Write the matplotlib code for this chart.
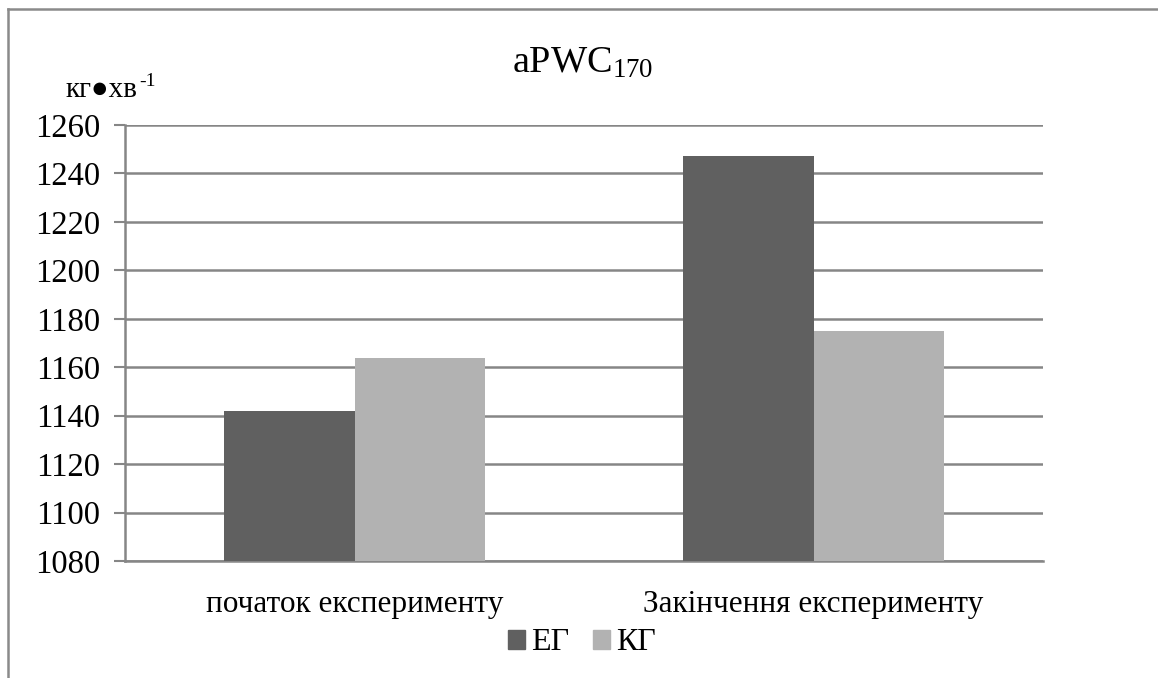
import matplotlib
matplotlib.use("Agg")
import matplotlib.pyplot as plt
from matplotlib.lines import Line2D
from matplotlib.patches import Patch
import numpy as np

categories = ["початок експерименту", "Закінчення експерименту"]
series_names = ["ЕГ", "КГ"]
eg_values = [1142, 1247]
kg_values = [1164, 1175]
y_ticks = [1080, 1100, 1120, 1140, 1160, 1180, 1200, 1220, 1240, 1260]

plt.rcParams["font.family"] = ["Liberation Serif", "DejaVu Serif"]
plt.rcParams["mathtext.fontset"] = "custom"
plt.rcParams["mathtext.rm"] = "Liberation Serif"
plt.rcParams["mathtext.it"] = "Liberation Serif:italic"

W, H = 1158, 678
fig = plt.figure(figsize=(W / 100, H / 100), dpi=100)
fig.patch.set_facecolor("white")

ax = fig.add_axes([125 / W, 1 - 561 / H, (1043 - 125) / W, (561 - 125) / H])

grid_color = "#868686"
dark = "#606060"
light = "#b2b2b2"

x = np.arange(len(categories))
bw = 0.285
ax.bar(x - bw / 2, eg_values, width=bw, color=dark, label=series_names[0], zorder=3)
ax.bar(x + bw / 2, kg_values, width=bw, color=light, label=series_names[1], zorder=3)

ax.set_xlim(-0.5, 1.5)
ax.set_ylim(y_ticks[0], y_ticks[-1])
ax.set_yticks(y_ticks)
ax.set_yticklabels([str(v) for v in y_ticks], fontsize=23.5)
ax.set_xticks(x)
ax.set_xticklabels(categories, fontsize=22.5)
ax.tick_params(axis="x", length=0, pad=21)
ax.tick_params(axis="y", length=8, width=1.5, color=grid_color, pad=10)

ax.yaxis.grid(True, color=grid_color, linewidth=1.8, zorder=0)
for side in ("top", "right"):
    ax.spines[side].set_visible(False)
for side in ("left", "bottom"):
    ax.spines[side].set_color(grid_color)
    ax.spines[side].set_linewidth(1.8)

# title with subscript
fig.text(583 / W, 1 - 63 / H, r"aPWC$_{170}$", ha="center", va="center", fontsize=27.5)

# unit label above the value axis, with a hyphen superscript
unit = fig.text(66 / W, 1 - 97 / H, "кг●хв", ha="left", va="baseline", fontsize=21)
fig.canvas.draw()
unit_right = unit.get_window_extent().x1 / W
fig.text(unit_right + 1 / W, 1 - 86 / H, "-1", ha="left", va="baseline", fontsize=14)

fig.legend(handles=[Patch(color=dark), Patch(color=light)], labels=series_names,
           loc="center", bbox_to_anchor=(582 / W, 1 - 643 / H), ncol=2, frameon=False,
           fontsize=23, handlelength=0.53, handleheight=0.53, handletextpad=0.2,
           columnspacing=0.75, borderpad=0, borderaxespad=0)

# outer frame (top and left edges visible)
fig.add_artist(Line2D([8 / W, 1.0], [1 - 9 / H, 1 - 9 / H], transform=fig.transFigure,
                      color="#8a8a8a", linewidth=1.8))
fig.add_artist(Line2D([8 / W, 8 / W], [1 - 9 / H, 0.0], transform=fig.transFigure,
                      color="#8a8a8a", linewidth=1.8))

fig.savefig("out.png", dpi=100, facecolor="white")
